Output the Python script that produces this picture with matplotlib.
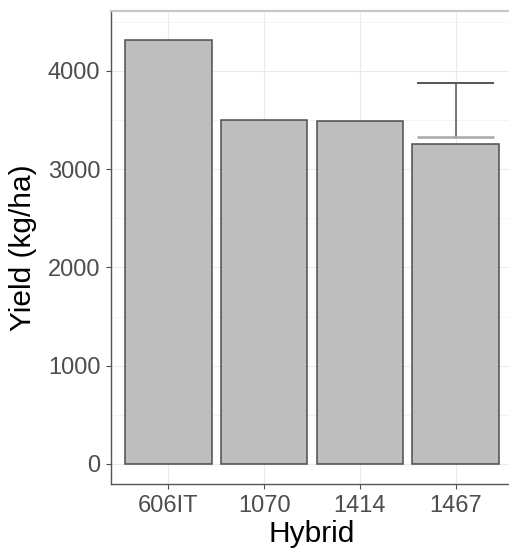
import matplotlib
matplotlib.use("Agg")
import matplotlib.pyplot as plt
import numpy as np
from matplotlib.ticker import MultipleLocator

hybrids = ["606IT", "1070", "1414", "1467"]
yield_kg_ha = [4312, 3498, 3494, 3258]
err_hybrid = "1467"
err_low = 3328
err_high = 3881

plt.rcParams["font.family"] = ["Liberation Sans", "DejaVu Sans"]

fig = plt.figure(figsize=(5.09, 5.5), dpi=100)
ax = fig.add_axes([111 / 509, 66 / 550, 402 / 509, 473 / 550])

x = np.arange(len(hybrids))
ax.bar(x, yield_kg_ha, width=0.9, color="#BEBEBE", edgecolor="#4D4D4D",
       linewidth=1.1, zorder=3)

# error bar on one hybrid only
xi = hybrids.index(err_hybrid)
ax.vlines(xi, err_low, err_high, color="#555555", linewidth=1.1, zorder=4)
ax.hlines(err_high, xi - 0.4, xi + 0.4, color="#555555", linewidth=1.4, zorder=4)
ax.hlines(err_low, xi - 0.4, xi + 0.4, color="#A8A8A8", linewidth=1.8, zorder=4)

ax.set_xlim(-0.6, 3.6)
ax.set_ylim(-205, 4610)
ax.set_xticks(x)
ax.set_xticklabels(hybrids)
ax.yaxis.set_major_locator(MultipleLocator(1000))
ax.yaxis.set_minor_locator(MultipleLocator(500))

ax.grid(True, which="major", color="#EBEBEB", linewidth=0.8, zorder=0)
ax.grid(True, which="minor", axis="y", color="#F2F2F2", linewidth=0.6, zorder=0)
ax.set_axisbelow(True)

ax.tick_params(axis="both", which="major", length=3.6, width=0.8, color="#4D4D4D",
               labelcolor="#4D4D4D", labelsize=17, pad=4)
ax.tick_params(axis="y", which="minor", length=0)

for side in ["left", "bottom"]:
    ax.spines[side].set_color("#555555")
    ax.spines[side].set_linewidth(1.0)
ax.spines["top"].set_color("#C8C8C8")
ax.spines["top"].set_linewidth(1.6)
ax.spines["right"].set_color("#C8C8C8")

ax.set_xlabel("Hybrid", fontsize=21.5, color="black", labelpad=2.5)
ax.set_ylabel("Yield (kg/ha)", fontsize=21.5, color="black", labelpad=8)

fig.savefig("out.png", dpi=100)
